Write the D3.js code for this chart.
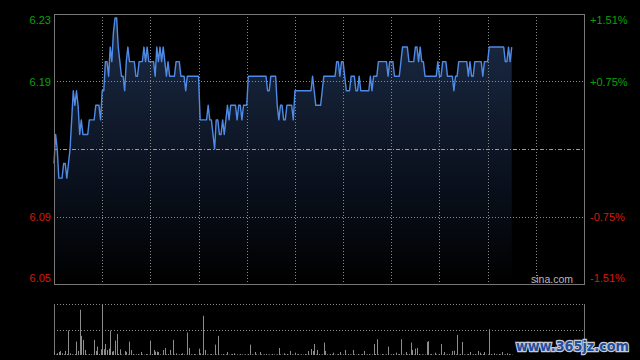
<!DOCTYPE html>
<html>
<head>
<meta charset="utf-8">
<script src="https://cdn.jsdelivr.net/npm/d3@7/dist/d3.min.js"></script>
<style>
html,body{margin:0;padding:0;background:#000;}
svg{display:block;}
</style>
</head>
<body>
<svg id="chart" width="640" height="360"></svg>
<script>
// ---- data ----
const prevClose = 6.14;
const maxPct = 0.0151;
const totalMinutes = 330;          // 09:30-12:00, 13:00-16:00
const gridDivisions = 11;
const leftLabels = ["6.23", "6.19", "6.09", "6.05"];
const rightLabels = ["+1.51%", "+0.75%", "-0.75%", "-1.51%"];
const labelFractions = [1, 0.75, 0.25, 0];
const prices = [
  6.13,6.15,6.14,6.12,6.12,6.12,6.13,6.13,6.12,6.13,
  6.14,6.16,6.18,6.17,6.18,6.17,6.15,6.16,6.15,6.15,
  6.15,6.15,6.16,6.16,6.16,6.16,6.17,6.17,6.17,6.16,
  6.18,6.18,6.20,6.20,6.19,6.21,6.20,6.22,6.23,6.23,
  6.21,6.20,6.19,6.19,6.18,6.20,6.21,6.20,6.20,6.20,
  6.20,6.19,6.19,6.20,6.20,6.20,6.21,6.20,6.21,6.20,
  6.20,6.20,6.20,6.19,6.21,6.20,6.21,6.20,6.21,6.20,
  6.19,6.20,6.19,6.19,6.19,6.19,6.20,6.20,6.20,6.19,
  6.19,6.19,6.18,6.19,6.19,6.19,6.19,6.19,6.19,6.19,
  6.19,6.16,6.16,6.16,6.16,6.16,6.17,6.16,6.16,6.15,
  6.14,6.16,6.16,6.15,6.15,6.16,6.15,6.16,6.17,6.16,
  6.17,6.17,6.17,6.17,6.16,6.17,6.17,6.16,6.17,6.17,
  6.17,6.19,6.19,6.19,6.19,6.19,6.19,6.19,6.19,6.19,
  6.19,6.19,6.19,6.18,6.18,6.19,6.19,6.19,6.19,6.17,
  6.16,6.17,6.17,6.16,6.16,6.17,6.17,6.17,6.17,6.16,
  6.18,6.18,6.18,6.18,6.18,6.18,6.18,6.18,6.18,6.18,
  6.18,6.19,6.18,6.17,6.17,6.17,6.17,6.18,6.19,6.19,
  6.19,6.19,6.19,6.19,6.19,6.19,6.20,6.20,6.19,6.20,
  6.20,6.19,6.18,6.18,6.18,6.19,6.19,6.19,6.18,6.18,
  6.19,6.18,6.18,6.18,6.18,6.18,6.18,6.19,6.18,6.19,
  6.19,6.19,6.20,6.20,6.20,6.20,6.20,6.20,6.19,6.20,
  6.20,6.20,6.19,6.19,6.19,6.19,6.20,6.21,6.21,6.21,
  6.21,6.20,6.20,6.20,6.20,6.21,6.21,6.20,6.21,6.20,
  6.20,6.19,6.19,6.19,6.19,6.19,6.19,6.19,6.19,6.20,
  6.19,6.19,6.20,6.20,6.20,6.19,6.19,6.19,6.19,6.18,
  6.19,6.19,6.20,6.20,6.20,6.20,6.20,6.20,6.19,6.20,
  6.19,6.19,6.20,6.20,6.20,6.20,6.20,6.19,6.20,6.20,
  6.20,6.21,6.21,6.21,6.21,6.21,6.21,6.21,6.21,6.21,
  6.21,6.20,6.20,6.21,6.20,6.21
];
const volumes = [
  12,2,5,9,12,5,2,12,3,73,
  5,2,1,3,40,12,135,57,45,15,
  2,1,3,2,1,45,12,25,3,17,
  152,17,33,15,19,73,10,12,43,63,
  3,17,2,1,12,9,2,40,15,3,
  1,2,3,1,9,2,1,3,2,1,
  43,3,15,10,10,9,2,1,15,21,
  2,3,15,1,45,2,5,1,2,3,
  5,2,1,67,21,2,1,3,2,1,
  19,5,2,117,15,2,1,2,3,1,
  31,2,57,1,2,3,1,2,9,1,
  2,3,5,1,2,1,3,2,1,2,
  1,3,31,2,1,9,2,1,9,2,
  1,2,3,1,2,1,3,2,1,2,
  21,2,1,5,2,3,1,12,2,1,
  7,2,3,1,2,1,3,2,12,1,
  18,12,33,2,15,3,1,2,37,12,
  2,1,3,2,7,1,2,3,9,1,
  2,15,1,3,2,1,15,2,1,3,
  1,2,3,12,1,2,3,1,2,33,
  3,47,2,1,3,2,1,2,25,1,
  2,3,1,7,2,3,47,2,1,9,
  2,3,37,15,2,19,21,3,1,2,
  1,2,39,41,2,3,1,7,2,1,
  3,33,2,9,1,2,3,1,12,13,
  2,60,1,3,39,2,1,2,3,9,
  1,2,3,1,12,7,2,3,9,1,
  2,77,3,1,5,2,1,3,2,9,
  1,2,5,3,2,1
];

// ---- layout ----
const L = 54, R = 584, T = 14, B = 284;
const VT = 304, VB = 355;
const svg = d3.select("#chart");
svg.append("rect").attr("width", 640).attr("height", 360).attr("fill", "#000");

const x = d3.scaleLinear().domain([0, totalMinutes]).range([L, R]);
const y = d3.scaleLinear().domain([prevClose * (1 - maxPct), prevClose * (1 + maxPct)]).range([B, T]);
const yv = d3.scaleLinear().domain([0, d3.max(volumes)]).range([VB, VT]);
const crisp = v => Math.round(v) + 0.5;

// gradient
const defs = svg.append("defs");
const grad = defs.append("linearGradient").attr("id", "fillGrad")
  .attr("gradientUnits", "userSpaceOnUse").attr("x1", 0).attr("x2", 0).attr("y1", T).attr("y2", B);
grad.append("stop").attr("offset", "0%").attr("stop-color", "#1b2b46");
grad.append("stop").attr("offset", "55%").attr("stop-color", "#0c1422");
grad.append("stop").attr("offset", "100%").attr("stop-color", "#000000");

// area + line
const area = d3.area().x((d, i) => x(i)).y0(B).y1(d => y(d));
svg.append("path").datum(prices).attr("d", area).attr("fill", "url(#fillGrad)");

// grid
const gridColor = "#8a8a8a";
const vg = d3.range(1, gridDivisions).map(i => i * totalMinutes / gridDivisions);
svg.append("g").selectAll("line").data(vg).join("line")
  .attr("x1", d => crisp(x(d))).attr("x2", d => crisp(x(d)))
  .attr("y1", T).attr("y2", B)
  .attr("stroke", gridColor).attr("stroke-width", 1).attr("stroke-dasharray", "1,2");
const domain = y.domain();
const yAt = f => y(domain[0] + f * (domain[1] - domain[0]));
svg.append("g").selectAll("line").data([0.75, 0.25]).join("line")
  .attr("x1", L).attr("x2", R)
  .attr("y1", d => crisp(yAt(d))).attr("y2", d => crisp(yAt(d)))
  .attr("stroke", gridColor).attr("stroke-width", 1).attr("stroke-dasharray", "1,2");
svg.append("line")
  .attr("x1", L).attr("x2", R)
  .attr("y1", crisp(y(prevClose))).attr("y2", crisp(y(prevClose)))
  .attr("stroke", "#9a9a9a").attr("stroke-width", 1).attr("stroke-dasharray", "4,2,1,2");

const line = d3.line().x((d, i) => x(i)).y(d => y(d));
svg.append("path").datum(prices).attr("d", line)
  .attr("fill", "none").attr("stroke", "#4f8be6").attr("stroke-width", 1.4)
  .attr("stroke-linejoin", "round");

// border
svg.append("rect").attr("x", L + 0.5).attr("y", T + 0.5).attr("width", R - L).attr("height", B - T)
  .attr("fill", "none").attr("stroke", "#777").attr("stroke-width", 1);

// labels
const font = "'Liberation Sans', Arial, sans-serif";
labelFractions.forEach((f, i) => {
  let py = yAt(f);
  if (f === 1) py += 6;
  if (f === 0) py -= 6;
  const col = f > 0.5 ? "#0ca00c" : "#d41a0a";
  svg.append("text").attr("x", 51).attr("y", py).attr("text-anchor", "end")
    .attr("dominant-baseline", "central").attr("font-family", font).attr("font-size", 11)
    .attr("fill", col).text(leftLabels[i]);
  svg.append("text").attr("x", 590).attr("y", py).attr("text-anchor", "start")
    .attr("dominant-baseline", "central").attr("font-family", font).attr("font-size", 11)
    .attr("fill", col).text(rightLabels[i]);
});

svg.append("text").attr("x", 573).attr("y", 279).attr("text-anchor", "end")
  .attr("dominant-baseline", "central").attr("font-family", font).attr("font-size", 10.5)
  .attr("fill", "#b8b8b8").text("sina.com");

// volume panel
svg.append("line").attr("x1", L).attr("x2", R).attr("y1", VT + 0.5).attr("y2", VT + 0.5)
  .attr("stroke", gridColor).attr("stroke-dasharray", "1,2");
svg.append("line").attr("x1", L).attr("x2", R).attr("y1", crisp((VT + VB) / 2)).attr("y2", crisp((VT + VB) / 2))
  .attr("stroke", gridColor).attr("stroke-dasharray", "1,2");
svg.append("line").attr("x1", L + 0.5).attr("x2", L + 0.5).attr("y1", VT).attr("y2", VB)
  .attr("stroke", "#777");
svg.append("line").attr("x1", R + 0.5).attr("x2", R + 0.5).attr("y1", VT).attr("y2", VB)
  .attr("stroke", "#777");
svg.append("g").selectAll("line").data(volumes).join("line")
  .attr("x1", (d, i) => crisp(x(i))).attr("x2", (d, i) => crisp(x(i)))
  .attr("y1", VB).attr("y2", d => yv(d))
  .attr("stroke", "#8c8c8c").attr("stroke-width", 1);

// watermark
svg.append("text").attr("x", 516).attr("y", 351)
  .attr("font-family", "'DejaVu Sans', sans-serif").attr("font-weight", "bold").attr("font-size", 14)
  .attr("textLength", 113).attr("lengthAdjust", "spacingAndGlyphs")
  .attr("fill", "#1f4f9e").attr("stroke", "#c8cbd6").attr("stroke-width", 2.5)
  .attr("paint-order", "stroke").text("www.365jz.com");
</script>
</body>
</html>
